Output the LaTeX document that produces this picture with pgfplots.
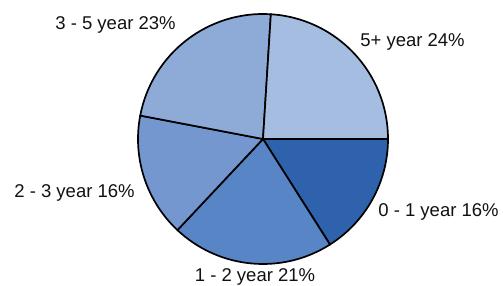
\documentclass[border=0pt]{standalone}
\usepackage{pgfplots}
\usepackage{pgfplotstable}
\pgfplotsset{compat=1.18}
\usepackage{fontspec}
\setmainfont{Liberation Sans}
\definecolor{c0}{HTML}{2E62AC}
\definecolor{c1}{HTML}{5785C6}
\definecolor{c2}{HTML}{7497CF}
\definecolor{c3}{HTML}{8EAAD6}
\definecolor{c4}{HTML}{A5BDE0}
\definecolor{txt}{HTML}{111111}

\pgfplotstableread{
label pct col lx ly
{0 - 1 year 16\%} 16 c0 438.5 69
{1 - 2 year 21\%} 21 c1 255 4.2
{2 - 3 year 16\%} 16 c2 74.5 88
{3 - 5 year 23\%} 23 c3 115.5 256
{5+ year 24\%} 24 c4 412.5 239
}\piedata

\begin{document}
\begin{tikzpicture}
\begin{axis}[
  width=503pt, height=286pt, scale only axis,
  xmin=0, xmax=503, ymin=0, ymax=286,
  hide axis, clip=false,
]
\gdef\cum{0}
\pgfplotsforeachungrouped \i in {0,...,4}{%
  \pgfplotstablegetelem{\i}{pct}\of\piedata \let\p\pgfplotsretval
  \pgfplotstablegetelem{\i}{col}\of\piedata \let\c\pgfplotsretval
  \pgfplotstablegetelem{\i}{label}\of\piedata \let\lab\pgfplotsretval
  \pgfplotstablegetelem{\i}{lx}\of\piedata \let\lx\pgfplotsretval
  \pgfplotstablegetelem{\i}{ly}\of\piedata \let\ly\pgfplotsretval
  \pgfmathsetmacro\a{-3.6*\cum}%
  \pgfmathsetmacro\newcum{\cum+\p}%
  \pgfmathsetmacro\b{-3.6*\newcum}%
  \xdef\cum{\newcum}%
  \edef\cmd{\noexpand\filldraw[fill=\c, draw=black, line width=1.7pt, line join=round]
    (axis cs:263,147) -- ++(\a:125pt) arc[start angle=\a, end angle=\b, radius=125pt] -- cycle;
    \noexpand\node[anchor=base, text=txt, font=\noexpand\fontsize{18.5}{22}\noexpand\selectfont, inner sep=0pt] at (axis cs:\lx,\ly) {\expandafter\unexpanded\expandafter{\lab}};}%
  \cmd
}
\end{axis}
\pgfresetboundingbox
\path (current axis.south west) rectangle (current axis.north east);
\end{tikzpicture}
\end{document}
